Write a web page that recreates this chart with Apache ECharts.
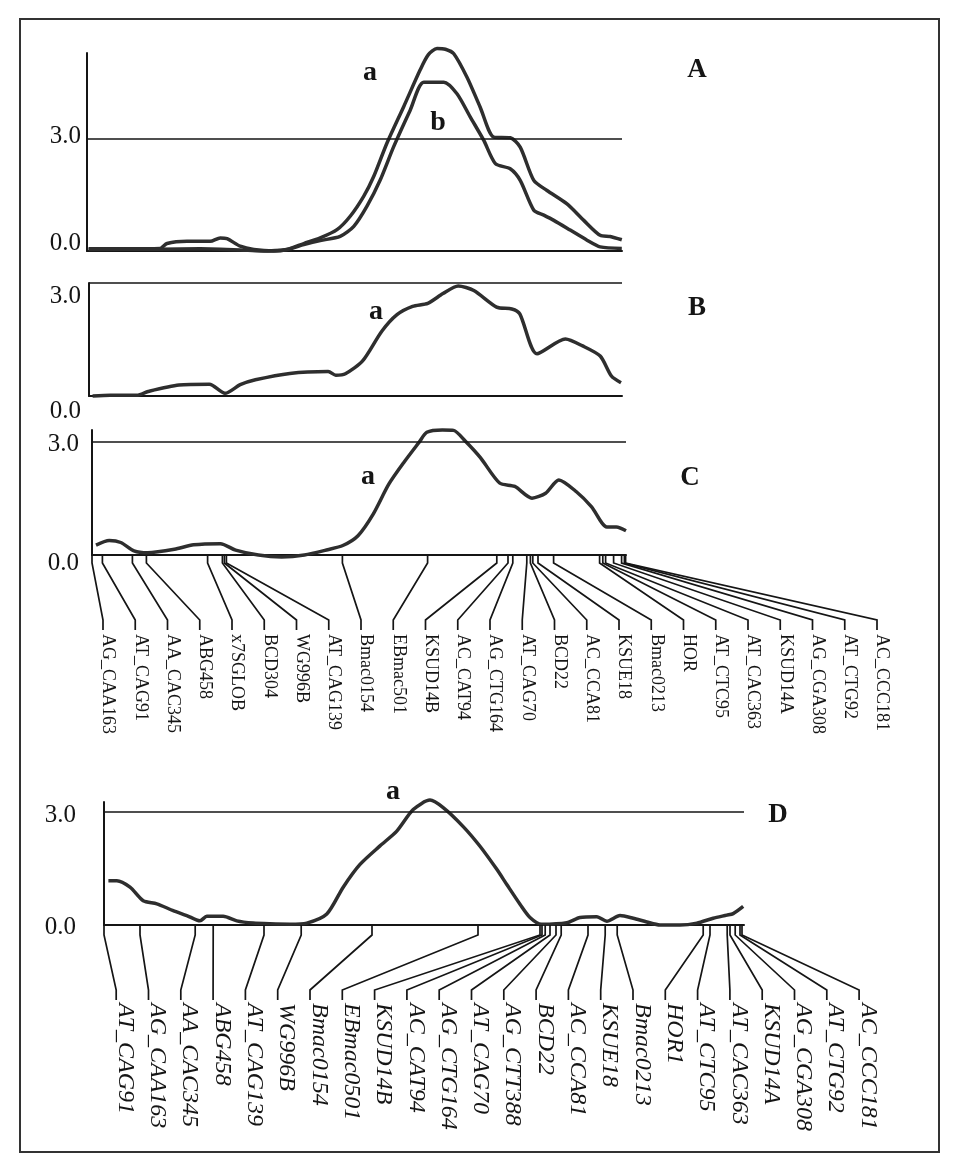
<!DOCTYPE html>
<html>
<head>
<meta charset="utf-8">
<title>LOD profiles</title>
<script src="https://cdn.jsdelivr.net/npm/echarts@6/dist/echarts.min.js"></script>
<style>
  html, body { margin: 0; padding: 0; background: #fff; }
  #chart { width: 953px; height: 1167px; }
</style>
</head>
<body>
<div id="chart"></div>
<script>
const serif = '"Liberation Serif", "Times New Roman", serif'
const ink = '#151515'
const curveInk = '#2e2e2e'
const threshold = 3.0

// LOD profiles, [position cM, LOD]
const lodAa = [[0.4, 0.06], [8.3, 0.06], [18.3, 0.07], [20, 0.2], [25, 0.26], [30.8, 0.26], [33.3, 0.35], [35, 0.33],
  [38.3, 0.13], [41.7, 0.04], [46.7, 0.0], [50, 0.04], [54.2, 0.2], [58.3, 0.35], [62.5, 0.57], [65.8, 0.93],
  [69.2, 1.47], [71.7, 2.0], [75, 2.89], [79.2, 3.87], [83.3, 4.85], [85.3, 5.25], [87.5, 5.42], [89.6, 5.4],
  [91.7, 5.28], [95, 4.65], [98.3, 3.85], [101.7, 3.05], [105.8, 3.03], [108.3, 2.78], [111.7, 1.89], [115, 1.62],
  [120, 1.26], [124.2, 0.82], [128.3, 0.42], [130.8, 0.39], [133.7, 0.3]]
const lodAb = [[0.4, 0.04], [18.3, 0.05], [28.3, 0.06], [38.3, 0.03], [43.3, 0.0], [50, 0.04], [54.2, 0.17],
  [58.3, 0.28], [63.3, 0.39], [66.7, 0.66], [70, 1.2], [73.3, 1.9], [76.7, 2.8], [80.8, 3.77], [84.2, 4.52],
  [89.2, 4.52], [92.5, 4.21], [95.8, 3.59], [99.2, 2.96], [102.1, 2.34], [105.8, 2.2], [108.3, 1.89], [111.7, 1.09],
  [114.2, 0.96], [116.7, 0.82], [120.8, 0.56], [125, 0.29], [128.3, 0.11], [133.7, 0.07]]
const lodB = [[0.9, 0.0], [5.3, 0.02], [12, 0.02], [14.8, 0.12], [22.5, 0.29], [30.1, 0.31], [34, 0.07], [37.8, 0.3],
  [41.6, 0.43], [50.2, 0.6], [59.8, 0.65], [61.7, 0.55], [64.1, 0.59], [68.4, 0.93], [73.2, 1.72], [77, 2.16],
  [80.9, 2.38], [84.7, 2.46], [88.5, 2.72], [92.3, 2.92], [96.2, 2.8], [101.9, 2.36], [105.7, 2.31], [107.7, 2.18],
  [112, 1.12], [119.1, 1.51], [123.4, 1.33], [127.8, 1.06], [130.6, 0.53], [133, 0.35]]
const lodC = [[1, 0.26], [4.3, 0.38], [7.2, 0.33], [10.5, 0.11], [13.9, 0.06], [20.6, 0.15], [25.4, 0.27], [32.1, 0.3],
  [35.9, 0.13], [41.6, 0.0], [47.4, -0.05], [53.1, 0.0], [58.9, 0.14], [62.7, 0.25], [66.5, 0.51], [70.3, 1.08],
  [74.2, 1.87], [78, 2.45], [81.8, 2.98], [83.7, 3.24], [87.6, 3.3], [90.4, 3.29], [93.3, 3.01], [97.1, 2.57],
  [101.9, 1.9], [105.7, 1.81], [110, 1.5], [113.4, 1.63], [116.7, 1.98], [121.1, 1.67], [124.9, 1.27], [128.7, 0.74],
  [131.1, 0.74], [133.5, 0.64]]
const lodD = [[1.1, 1.17], [3.2, 1.17], [6.5, 1.0], [9.8, 0.64], [13.2, 0.56], [17.3, 0.38], [20.7, 0.25], [24, 0.11],
  [25.7, 0.23], [29.8, 0.23], [33.2, 0.11], [37.3, 0.05], [41.5, 0.03], [46.5, 0.02], [50.7, 0.05], [55.7, 0.29],
  [59.8, 1.0], [64, 1.6], [69, 2.09], [73.2, 2.48], [77.3, 3.05], [81.5, 3.3], [84.8, 3.1], [89.8, 2.6], [94, 2.08],
  [98.2, 1.47], [100.7, 1.07], [104, 0.55], [106.5, 0.2], [109.4, 0.02], [115.7, 0.06], [119, 0.2], [123.2, 0.22],
  [125.7, 0.1], [129, 0.25], [132.3, 0.18], [135.7, 0.08], [139, 0.0], [144, 0.0], [148.2, 0.05], [152.3, 0.18],
  [155.7, 0.26], [157.3, 0.3], [159.8, 0.49]]

// marker maps (cM)
const markersC = ['AG_CAA163', 'AT_CAG91', 'AA_CAC345', 'ABG458', 'x7SGLOB', 'BCD304', 'WG996B', 'AT_CAG139',
  'Bmac0154', 'EBmac501', 'KSUD14B', 'AC_CAT94', 'AG_CTG164', 'AT_CAG70', 'BCD22', 'AC_CCA81', 'KSUE18',
  'Bmac0213', 'HOR', 'AT_CTC95', 'AT_CAC363', 'KSUD14A', 'AG_CGA308', 'AT_CTG92', 'AC_CCC181']
const markerPosC = [0, 2.6, 10.1, 13.6, 28.9, 32.6, 33.1, 33.6, 62.6, 83.9, 101.2, 104, 105.2, 108.7, 109.6, 110.2,
  111.5, 115.4, 126.9, 127.7, 128.4, 130.4, 132.4, 133.1, 133.4]
const markersD = ['AT_CAG91', 'AG_CAA163', 'AA_CAC345', 'ABG458', 'AT_CAG139', 'WG996B', 'Bmac0154', 'EBmac0501',
  'KSUD14B', 'AC_CAT94', 'AG_CTG164', 'AT_CAG70', 'AG_CTT388', 'BCD22', 'AC_CCA81', 'KSUE18', 'Bmac0213', 'HOR1',
  'AT_CTC95', 'AT_CAC363', 'KSUD14A', 'AG_CGA308', 'AT_CTG92', 'AC_CCC181']
const markerPosD = [0, 9, 22.8, 27.3, 40, 49.3, 67, 93.5, 109, 109.5, 110.3, 111.5, 113, 114.3, 121, 125.3, 128.3,
  149.8, 151.5, 155.8, 156.5, 157.8, 159, 159.5]

const yTicks = [0, threshold]

// panel boxes, 4 px per cM
const panels = [
  { left: 87, top: 53, width: 535, height: 198, yMax: 5.3, margin: 6, dy3: -2, dy0: -8 },
  { left: 89, top: 283, width: 533, height: 113, yMax: 3.0, margin: 8, dy3: 13, dy0: 15 },
  { left: 92, top: 430, width: 534, height: 125, yMax: 3.3, margin: 13, dy3: 3, dy0: 8 },
  { left: 104, top: 802, width: 640, height: 123, yMax: 3.25, margin: 28, dy3: 4, dy0: 2 }
]

function pad (d) {
  return d >= 0 ? [2 * d, 0, 0, 0] : [0, 0, -2 * d, 0]
}

const grids = panels.map(p => ({ left: p.left, top: p.top, width: p.width, height: p.height }))

const xAxes = panels.map((p, i) => ({
  gridIndex: i,
  type: 'value',
  min: 0,
  max: p.width / 4,
  axisLine: { show: true, lineStyle: { color: ink, width: 2 } },
  axisTick: { show: false },
  axisLabel: { show: false },
  splitLine: { show: false }
}))

const yAxes = panels.map((p, i) => ({
  gridIndex: i,
  type: 'value',
  min: 0,
  max: p.yMax,
  interval: 3,
  axisLine: { show: true, lineStyle: { color: ink, width: 2 } },
  axisTick: { show: false },
  splitLine: { show: false },
  axisLabel: {
    margin: p.margin,
    formatter: v => v === yTicks[1] ? '{t|' + v.toFixed(1) + '}' : v === yTicks[0] ? '{z|' + v.toFixed(1) + '}' : '',
    rich: {
      t: { fontFamily: serif, fontSize: 25, color: ink, padding: pad(p.dy3) },
      z: { fontFamily: serif, fontSize: 25, color: ink, padding: pad(p.dy0) }
    }
  }
}))

const thresholdLine = {
  silent: true,
  symbol: 'none',
  label: { show: false },
  lineStyle: { color: ink, width: 1.6, type: 'solid' },
  data: [{ yAxis: threshold }]
}

function profile (gridIndex, data, withThreshold) {
  return {
    type: 'line',
    xAxisIndex: gridIndex,
    yAxisIndex: gridIndex,
    data: data,
    smooth: 0.25,
    showSymbol: false,
    clip: false,
    lineStyle: { color: curveInk, width: 3.5 },
    markLine: withThreshold ? thresholdLine : undefined,
    z: 3
  }
}

// marker ticks with leader lines to evenly spaced names
function markerSeries (gridIndex, names, positions, geo) {
  return {
    type: 'custom',
    xAxisIndex: gridIndex,
    yAxisIndex: gridIndex,
    silent: true,
    clip: false,
    z: 4,
    data: positions.map((p, i) => [p, i]),
    renderItem (params, api) {
      const i = api.value(1)
      const base = api.coord([api.value(0), 0])
      const lx = geo.start + i * geo.step
      return {
        type: 'group',
        children: [
          {
            type: 'polyline',
            shape: { points: [[base[0], base[1]], [base[0], base[1] + geo.tick], [lx, base[1] + geo.diag], [lx, base[1] + geo.tail]] },
            style: { stroke: ink, lineWidth: 1.7, fill: null }
          },
          {
            type: 'text',
            x: lx + geo.textDx,
            y: base[1] + geo.textTop,
            rotation: -Math.PI / 2,
            style: { text: names[i], font: geo.font, fill: ink, align: 'left', verticalAlign: 'middle' }
          }
        ]
      }
    }
  }
}

function note (text, x, y, size) {
  return {
    type: 'text',
    x: x,
    y: y,
    style: { text: text, font: 'bold ' + size + 'px ' + serif, fill: ink, align: 'center', verticalAlign: 'middle' }
  }
}

const option = {
  animation: false,
  backgroundColor: '#fff',
  grid: grids,
  xAxis: xAxes,
  yAxis: yAxes,
  series: [
    profile(0, lodAa, true),
    profile(0, lodAb, false),
    profile(1, lodB, true),
    profile(2, lodC, true),
    profile(3, lodD, true),
    markerSeries(2, markersC, markerPosC, { start: 103, step: 32.25, tick: 8, diag: 65, tail: 75, textTop: 79, textDx: 5, font: '18px ' + serif }),
    markerSeries(3, markersD, markerPosD, { start: 116.2, step: 32.3, tick: 10, diag: 65, tail: 75, textTop: 78, textDx: 9, font: 'italic 24px ' + serif })
  ],
  graphic: [
    { type: 'rect', shape: { x: 20, y: 19, width: 919, height: 1133 }, style: { fill: 'none', stroke: '#333', lineWidth: 2 } },
    note('a', 370, 73, 28), note('b', 438, 123, 28), note('A', 697, 70, 27),
    note('a', 376, 312, 28), note('B', 697, 308, 27),
    note('a', 368, 477, 28), note('C', 690, 478, 27),
    note('a', 393, 792, 28), note('D', 778, 815, 27)
  ]
}

const chart = echarts.init(document.getElementById('chart'))
chart.setOption(option)
</script>
</body>
</html>
